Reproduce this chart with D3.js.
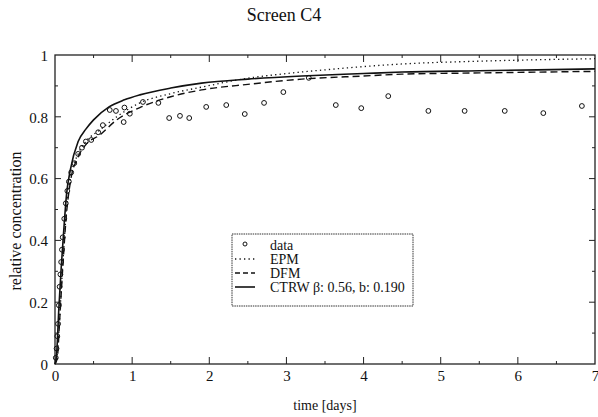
<!DOCTYPE html>
<html>
<head>
<meta charset="utf-8">
<script src="https://cdn.jsdelivr.net/npm/d3@7"></script>
<style>
  html, body { margin: 0; padding: 0; background: #fff; }
  svg { display: block; }
  svg text { font-family: "Liberation Serif", "Times New Roman", "DejaVu Serif", serif !important; }
</style>
</head>
<body>
<svg id="chart" width="598" height="417"></svg>
<script>
// Breakthrough at screen C4: measured relative concentration and three model fits
const dataX = [0.01,0.02,0.03,0.04,0.05,0.06,0.07,0.08,0.09,0.10,0.12,0.14,0.16,0.18,0.21,0.25,0.30,0.35,0.40,0.47,0.56,0.62,0.71,0.79,0.89,0.90,0.97,1.14,1.34,1.48,1.62,1.74,1.96,2.22,2.46,2.71,2.96,3.29,3.64,3.97,4.32,4.84,5.31,5.83,6.33,6.83];
const dataY = [0.02,0.05,0.09,0.13,0.19,0.25,0.29,0.33,0.37,0.41,0.47,0.52,0.56,0.59,0.62,0.65,0.68,0.70,0.72,0.725,0.75,0.773,0.822,0.819,0.783,0.83,0.81,0.848,0.845,0.796,0.803,0.796,0.832,0.838,0.809,0.845,0.880,0.926,0.838,0.828,0.867,0.819,0.819,0.819,0.812,0.835];

const epmX = [0,0.03,0.06,0.10,0.15,0.20,0.30,0.40,0.58,0.80,1.10,1.50,1.90,2.50,3.00,3.50,4.50,5.50,7.00];
const epmY = [0,0.03,0.15,0.32,0.50,0.60,0.68,0.72,0.757,0.80,0.845,0.875,0.896,0.925,0.940,0.952,0.971,0.980,0.988];

const dfmX = [0,0.03,0.06,0.10,0.15,0.20,0.30,0.40,0.58,0.80,1.10,1.50,1.90,2.50,3.20,4.00,4.50,5.50,7.00];
const dfmY = [0,0.02,0.14,0.31,0.49,0.59,0.67,0.71,0.741,0.79,0.83,0.865,0.887,0.905,0.922,0.932,0.938,0.942,0.947];

const ctrwX = [0,0.02,0.05,0.08,0.11,0.15,0.20,0.30,0.40,0.50,0.70,0.90,1.10,1.50,1.90,2.50,3.20,4.00,4.50,5.50,7.00];
const ctrwY = [0,0.03,0.18,0.31,0.42,0.55,0.63,0.72,0.76,0.79,0.832,0.855,0.871,0.893,0.909,0.922,0.932,0.940,0.945,0.949,0.955];

const xTicks = [0,1,2,3,4,5,6,7];
const yTicks = [0,0.2,0.4,0.6,0.8,1];
const yTickLabels = ["0","0.2","0.4","0.6","0.8","1"];
const legendLabels = ["data","EPM","DFM","CTRW \u03b2: 0.56, b: 0.190"];

const svg = d3.select("#chart");
const plotLeft = 55, plotRight = 595, plotTop = 55, plotBottom = 364;

const x = d3.scaleLinear().domain([0, 7]).range([plotLeft, plotRight]);
const y = d3.scaleLinear().domain([0, 1]).range([plotBottom, plotTop]);

// Title
svg.append("text").attr("x", 284).attr("y", 21).attr("text-anchor", "middle")
  .attr("font-size", 18).attr("fill", "#111").text("Screen C4");

// Plot frame
svg.append("rect").attr("x", plotLeft).attr("y", plotTop)
  .attr("width", plotRight - plotLeft).attr("height", plotBottom - plotTop)
  .attr("fill", "none").attr("stroke", "#222").attr("stroke-width", 1.3);

// Inward ticks on all four sides
const xMinor = d3.range(0.5, 7, 1);
const yMinor = d3.range(0.1, 1, 0.2);
const tickG = svg.append("g").attr("stroke", "#222").attr("stroke-width", 1);
function xTickMarks(vals, len) {
  vals.forEach(v => {
    tickG.append("line").attr("x1", x(v)).attr("x2", x(v)).attr("y1", plotBottom).attr("y2", plotBottom - len);
    tickG.append("line").attr("x1", x(v)).attr("x2", x(v)).attr("y1", plotTop).attr("y2", plotTop + len);
  });
}
function yTickMarks(vals, len) {
  vals.forEach(v => {
    tickG.append("line").attr("y1", y(v)).attr("y2", y(v)).attr("x1", plotLeft).attr("x2", plotLeft + len);
    tickG.append("line").attr("y1", y(v)).attr("y2", y(v)).attr("x1", plotRight).attr("x2", plotRight - len);
  });
}
xTickMarks(xTicks.slice(1, -1), 7);
xTickMarks(xMinor, 3);
yTickMarks(yTicks.slice(1, -1), 6);
yTickMarks(yMinor, 3);

// Axis labels via d3 axes (text only)
const xAxis = svg.append("g").attr("transform", `translate(0,${plotBottom})`)
  .call(d3.axisBottom(x).tickValues(xTicks).tickFormat(d3.format("d")).tickSize(0).tickPadding(6));
const yAxis = svg.append("g").attr("transform", `translate(${plotLeft},0)`)
  .call(d3.axisLeft(y).tickValues(yTicks).tickFormat((d, i) => yTickLabels[i]).tickSize(0).tickPadding(7));
[xAxis, yAxis].forEach(g => {
  g.attr("font-family", null);
  g.select(".domain").remove();
  g.selectAll("text").attr("font-size", 15).attr("fill", "#111");
});
yAxis.selectAll("text").attr("dy", "0.35em");

svg.append("text").attr("x", 325).attr("y", 410).attr("text-anchor", "middle")
  .attr("font-size", 14).attr("fill", "#111").text("time [days]");
svg.append("text").attr("transform", "translate(21,221) rotate(-90)").attr("text-anchor", "middle")
  .attr("font-size", 16).attr("fill", "#111").text("relative concentration");

// Model curves
const line = d3.line().x(d => x(d[0])).y(d => y(d[1])).curve(d3.curveMonotoneX);
const plot = svg.append("g");
const styles = {
  epm: { dash: "1.3,3.2", width: 1.3 },
  dfm: { dash: "7,4", width: 1.4 },
  ctrw: { dash: null, width: 1.6 }
};
plot.append("path").datum(d3.zip(epmX, epmY)).attr("d", line).attr("fill", "none")
  .attr("stroke", "#111").attr("stroke-width", styles.epm.width).attr("stroke-dasharray", styles.epm.dash);
plot.append("path").datum(d3.zip(dfmX, dfmY)).attr("d", line).attr("fill", "none")
  .attr("stroke", "#111").attr("stroke-width", styles.dfm.width).attr("stroke-dasharray", styles.dfm.dash);
plot.append("path").datum(d3.zip(ctrwX, ctrwY)).attr("d", line).attr("fill", "none")
  .attr("stroke", "#111").attr("stroke-width", styles.ctrw.width);

// Measured data
plot.selectAll("circle").data(d3.zip(dataX, dataY)).join("circle")
  .attr("cx", d => x(d[0])).attr("cy", d => y(d[1])).attr("r", 2.4)
  .attr("fill", "none").attr("stroke", "#111").attr("stroke-width", 1);

// Legend
const lg = svg.append("g");
lg.append("rect").attr("x", 232).attr("y", 234).attr("width", 181).attr("height", 72)
  .attr("fill", "#fff").attr("stroke", "#333").attr("stroke-width", 1).attr("stroke-dasharray", "1.5,0.8");
legendLabels.forEach((lab, i) => {
  const cy = 245 + i * 14;
  if (i === 0) {
    lg.append("circle").attr("cx", 245).attr("cy", cy - 1).attr("r", 2)
      .attr("fill", "none").attr("stroke", "#111").attr("stroke-width", 1);
  } else {
    const st = [styles.epm, styles.dfm, styles.ctrw][i - 1];
    lg.append("line").attr("x1", 235).attr("x2", 255).attr("y1", cy).attr("y2", cy)
      .attr("stroke", "#111").attr("stroke-width", st.width)
      .attr("stroke-dasharray", i === 2 ? "5,3" : st.dash);
  }
  lg.append("text").attr("x", 270).attr("y", cy + 5).attr("font-size", 14)
    .attr("fill", "#111").text(lab);
});
</script>
</body>
</html>
